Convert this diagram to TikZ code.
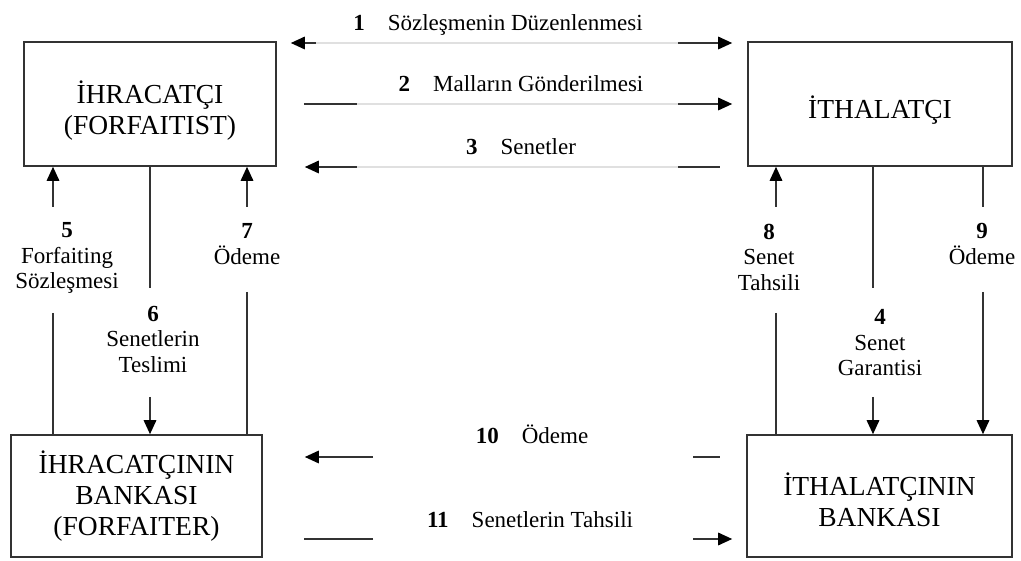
\documentclass[tikz,border=0pt]{standalone}
\usepackage{fontspec}
\setmainfont{Liberation Serif}
\usetikzlibrary{arrows.meta}

\tikzset{
  box/.style={draw=black!80, line width=1.6pt, align=center, inner sep=0pt,
    font=\fontsize{27.5}{31}\selectfont},
  lbl/.style={align=center, inner sep=0pt, font=\fontsize{23}{25.5}\selectfont},
  flow/.style={draw=black!80, line width=1.6pt},
  tip/.style={flow, -{Triangle[length=14pt,width=12.5pt,color=black]}},
  faint/.style={draw=black!12, line width=1.2pt}
}

\begin{document}
\begin{tikzpicture}[x=1pt, y=-1pt]
  \useasboundingbox (0,0) rectangle (1021,561);

  % parties
  \node[box, minimum width=252pt, minimum height=124pt] (A) at (150,104) {\rule{0pt}{35pt}İHRACATÇI\\(FORFAITIST)};
  \node[box, minimum width=264pt, minimum height=124pt] (B) at (880,104) {\rule{0pt}{35pt}İTHALATÇI};
  \node[box, minimum width=251pt, minimum height=122pt] (C) at (136.5,496) {İHRACATÇININ\\BANKASI\\(FORFAITER)};
  \node[box, minimum width=265pt, minimum height=122pt] (D) at (879.5,496) {\rule{0pt}{30pt}İTHALATÇININ\\BANKASI};

  % horizontal labels
  \node[lbl, anchor=base] (l1) at (498,31) {\textbf{1}\quad Sözleşmenin Düzenlenmesi};
  \node[lbl, anchor=base] (l2) at (521,92) {\textbf{2}\quad Malların Gönderilmesi};
  \node[lbl, anchor=base] (l3) at (521,155) {\textbf{3}\quad Senetler};
  \node[lbl, anchor=base] (l10) at (532,444) {\textbf{10}\quad Ödeme};
  \node[lbl, anchor=base] (l11) at (530,527) {\textbf{11}\quad Senetlerin Tahsili};

  % vertical labels
  \node[lbl] (l5) at (67,258) {\textbf{5}\\Forfaiting\\Sözleşmesi};
  \node[lbl] (l6) at (153,339) {\textbf{6}\\Senetlerin\\Teslimi};
  \node[lbl] (l7) at (247,244) {\textbf{7}\\Ödeme};
  \node[lbl] (l8) at (769,257) {\textbf{8}\\Senet\\Tahsili};
  \node[lbl] (l4) at (880,343) {\textbf{4}\\Senet\\Garantisi};
  \node[lbl] (l9) at (982,244) {\textbf{9}\\Ödeme};

  % ends of the broken lines
  \coordinate (r1a) at (316,43);  \coordinate (r1b) at (678,43);
  \coordinate (r2a) at (357,104); \coordinate (r2b) at (678,104);
  \coordinate (r3a) at (357,167); \coordinate (r3b) at (678,167);
  \coordinate (r10a) at (373,457); \coordinate (r10b) at (693,457);
  \coordinate (r11a) at (373,539); \coordinate (r11b) at (693,539);
  \coordinate (v5a) at (53,207);  \coordinate (v5b) at (53,313);
  \coordinate (v6a) at (150,288); \coordinate (v6b) at (150,397);
  \coordinate (v7a) at (247,207); \coordinate (v7b) at (247,292);
  \coordinate (v8a) at (776,207); \coordinate (v8b) at (776,313);
  \coordinate (v4a) at (873,288); \coordinate (v4b) at (873,397);
  \coordinate (v9a) at (983,207); \coordinate (v9b) at (983,292);

  % 1, 2, 3
  \draw[tip, shorten >=14pt] (r1a) -- (r1a -| A.east);
  \draw[faint] (r1a) -- (r1b);
  \draw[tip, shorten >=15pt] (r1b) -- (r1b -| B.west);
  \draw[flow, shorten <=27pt] (A.east) -- (r2a);
  \draw[faint] (r2a) -- (r2b);
  \draw[tip, shorten >=15pt] (r2b) -- (B.west);
  \draw[tip, shorten >=28pt] (r3a) -- (r3a -| A.east);
  \draw[faint] (r3a) -- (r3b);
  \draw[flow, shorten >=27pt] (r3b) -- (r3b -| B.west);

  % 10, 11
  \draw[tip, shorten >=42pt] (r10a) -- (r10a -| C.east);
  \draw[flow, shorten >=26pt] (r10b) -- (r10b -| D.west);
  \draw[flow, shorten >=41pt] (r11a) -- (r11a -| C.east);
  \draw[tip, shorten >=14pt] (r11b) -- (r11b -| D.west);

  % 5, 6, 7
  \draw[tip] (v5a) -- (v5a |- A.south);
  \draw[flow] (v5b) -- (v5b |- C.north);
  \draw[flow] (v6a) -- (v6a |- A.south);
  \draw[tip] (v6b) -- (v6b |- C.north);
  \draw[tip] (v7a) -- (v7a |- A.south);
  \draw[flow] (v7b) -- (v7b |- C.north);

  % 8, 4, 9
  \draw[tip] (v8a) -- (v8a |- B.south);
  \draw[flow] (v8b) -- (v8b |- D.north);
  \draw[flow] (v4a) -- (v4a |- B.south);
  \draw[tip] (v4b) -- (v4b |- D.north);
  \draw[flow] (v9a) -- (v9a |- B.south);
  \draw[tip] (v9b) -- (v9b |- D.north);
\end{tikzpicture}
\end{document}
